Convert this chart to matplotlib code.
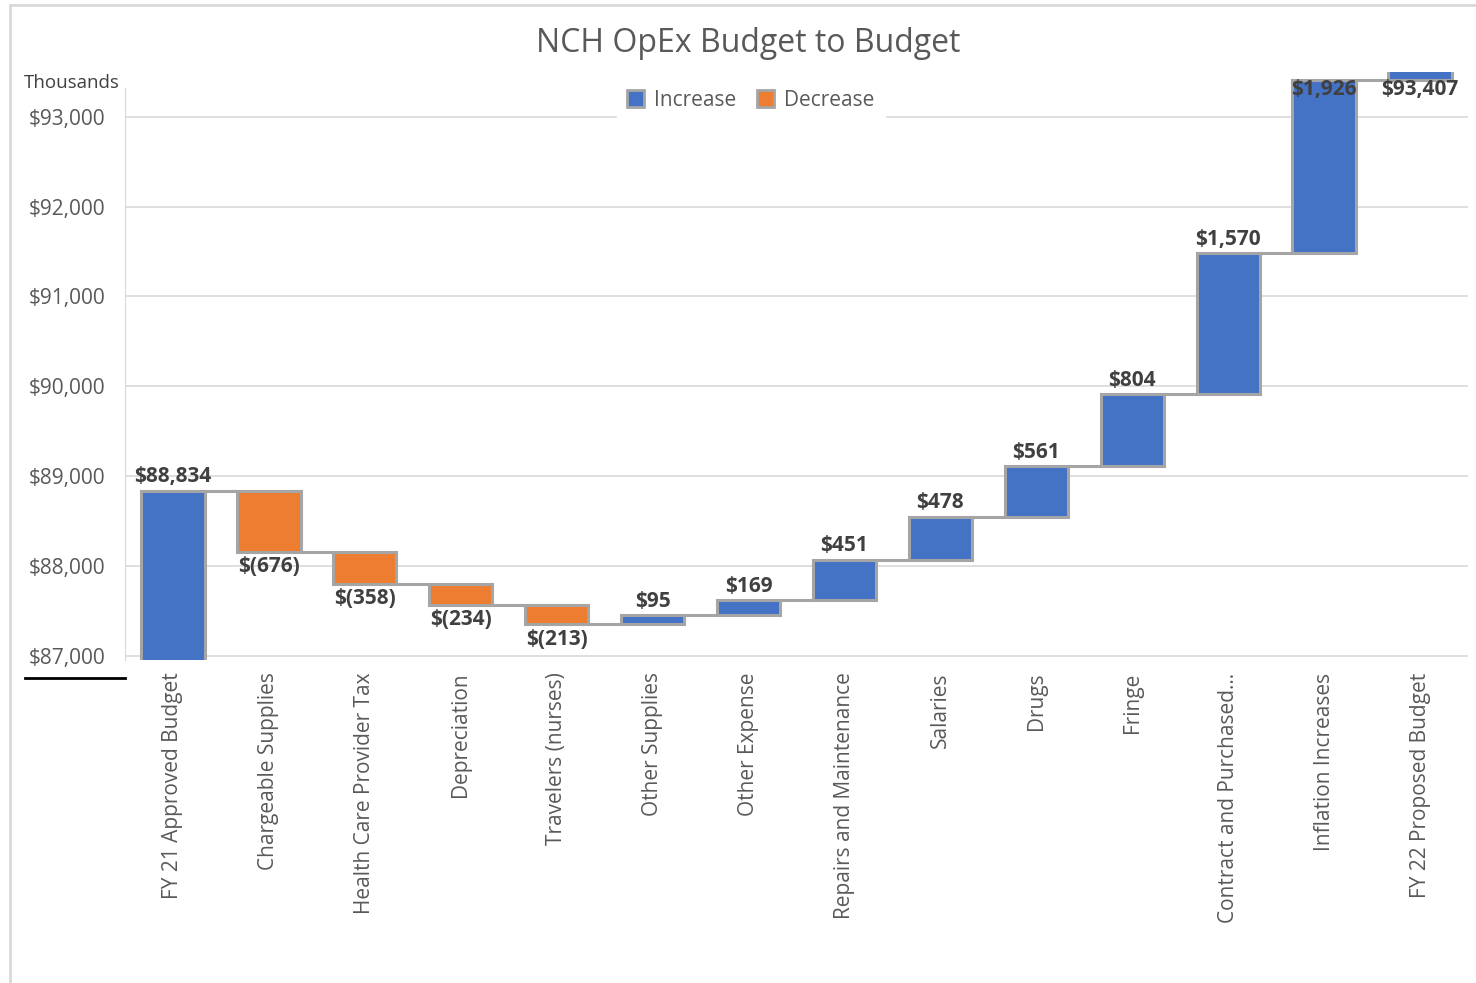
import matplotlib.pyplot as plt
import numpy as np
from matplotlib.patches import Patch
from matplotlib.lines import Line2D

plt.rcParams['font.family'] = ['Open Sans', 'DejaVu Sans']

categories = ["FY 21 Approved Budget", "Chargeable Supplies", "Health Care Provider Tax",
              "Depreciation", "Travelers (nurses)", "Other Supplies", "Other Expense",
              "Repairs and Maintenance", "Salaries", "Drugs", "Fringe",
              "Contract and Purchased...", "Inflation Increases", "FY 22 Proposed Budget"]
start_budget = 88834
changes = [-676, -358, -234, -213, 95, 169, 451, 478, 561, 804, 1570, 1926]
end_budget = 93407
yticks = [87000, 88000, 89000, 90000, 91000, 92000, 93000]

blue = "#4472C4"
orange = "#ED7D31"
edge = "#A5A5A5"
txt = "#595959"
lbl = "#404040"

# running totals: bottoms / heights for every column
bottoms, heights, colors, labels = [], [], [], []
bottoms.append(0); heights.append(start_budget); colors.append(blue)
labels.append(f"${start_budget:,}")
level = start_budget
ends = [level]
for c in changes:
    new = level + c
    bottoms.append(min(level, new)); heights.append(abs(c))
    colors.append(blue if c > 0 else orange)
    labels.append(f"${c:,}" if c > 0 else f"$({-c:,})")
    level = new
    ends.append(level)
# last column is stacked as an increase on top of the running total
bottoms.append(level); heights.append(end_budget); colors.append(blue)
labels.append(f"${end_budget:,}")

fig = plt.figure(figsize=(14.76, 9.83), dpi=100)
ax = fig.add_axes([125/1476, 1-660/983, 1343/1476, 588/983])
ax.set_xlim(-0.5, len(categories) - 0.5)
ax.set_ylim(86950, 93500)

x = np.arange(len(categories))
ax.bar(x, heights, bottom=bottoms, width=0.66, color=colors,
       edgecolor=edge, linewidth=2.2, zorder=3)

# connectors between consecutive columns
for i, e in enumerate(ends):
    ax.plot([i + 0.33, i + 1 - 0.33], [e, e], color=edge, lw=2.2, zorder=2,
            solid_capstyle='butt')

# value labels
ymax = ax.get_ylim()[1]
for i in range(len(categories)):
    b, h = bottoms[i], heights[i]
    if 0 < i < len(categories) - 1 and changes[i - 1] < 0:
        ax.annotate(labels[i], (i, b), xytext=(0, -11), textcoords='offset points',
                    ha='center', va='center', fontsize=15, fontweight='bold', color=lbl)
    else:
        top = b + h
        if top + 150 > ymax:
            ax.text(i, ymax - 200, labels[i], ha='center', va='center',
                    fontsize=15, fontweight='bold', color=lbl, zorder=5)
        else:
            ax.annotate(labels[i], (i, top), xytext=(0, 10), textcoords='offset points',
                        ha='center', va='center', fontsize=15, fontweight='bold', color=lbl)

ax.set_yticks(yticks)
ax.set_yticklabels([f"${v:,}" for v in yticks], fontsize=15, color=txt)
ax.set_xticks(x)
ax.set_xticklabels(categories, rotation=90, fontsize=15, color=txt, va='top')
ax.tick_params(length=0)
ax.tick_params(axis='y', pad=14)
ax.tick_params(axis='x', pad=9)
ax.grid(axis='y', color='#D9D9D9', lw=1.2, zorder=0)
for s in ['top', 'right', 'bottom']:
    ax.spines[s].set_visible(False)
ax.spines['left'].set_color('#D9D9D9')
ax.spines['left'].set_bounds(86950, 93320)

handles = [Patch(facecolor=blue, edgecolor=edge, lw=2, label='Increase'),
           Patch(facecolor=orange, edgecolor=edge, lw=2, label='Decrease')]
leg = ax.legend(handles=handles, loc='center', bbox_to_anchor=(0.466, 0.952), ncol=2,
                frameon=True, fontsize=15, handlelength=0.8, handleheight=0.9,
                columnspacing=1.0, handletextpad=0.5, borderpad=0.5)
leg.get_frame().set_edgecolor('white')
leg.get_frame().set_facecolor('white')
leg.get_frame().set_alpha(1)
leg.set_zorder(4)
for t in leg.get_texts():
    t.set_color(txt)

fig.text(748/1476, 1-44/983, "NCH OpEx Budget to Budget", ha='center', va='center',
         fontsize=23, color=txt)
fig.text(24/1476, 1-83/983, "Thousands", ha='left', va='center', fontsize=13.5, color=lbl)

# outer frame and the short rule under the value axis
fig.add_artist(Line2D([10/1476, 10/1476], [0, 1-5/983], color='#D9D9D9', lw=2,
                      transform=fig.transFigure))
fig.add_artist(Line2D([10/1476, 1], [1-5/983, 1-5/983], color='#D9D9D9', lw=2,
                      transform=fig.transFigure))
fig.add_artist(Line2D([25/1476, 125/1476], [1-678/983, 1-678/983], color='black', lw=2,
                      transform=fig.transFigure))

fig.savefig("out.png", dpi=100)
